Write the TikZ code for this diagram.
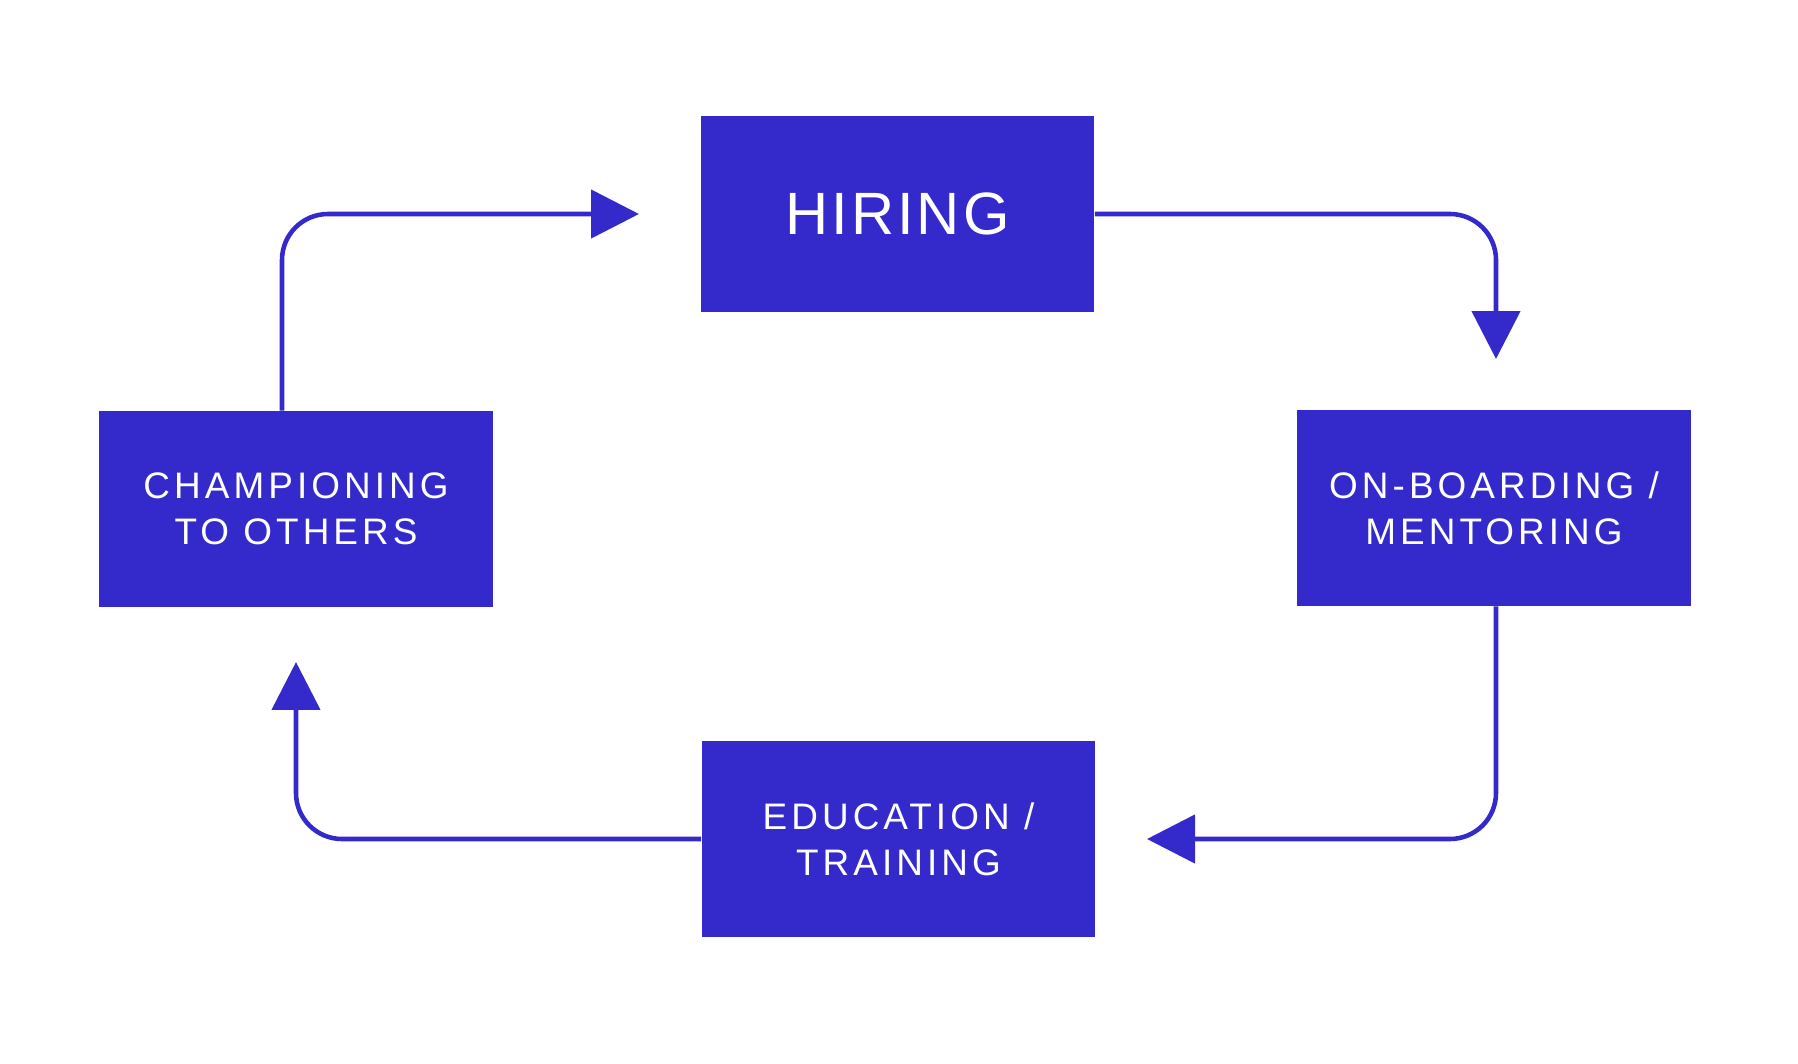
\documentclass[tikz,border=0pt]{standalone}
\usepackage{fontspec}
\usepackage{tikz}
\usetikzlibrary{positioning, arrows.meta}
\newfontfamily\stagefont{Liberation Sans}[LetterSpace=11]
\newfontfamily\hirefont{Liberation Sans}[LetterSpace=5]
\definecolor{CycleBlue}{RGB}{52,42,204}
\tikzset{
  stage/.style={draw=none, fill=CycleBlue, text=white, align=center,
    minimum width=7.88cm, minimum height=3.92cm, inner sep=0pt,
    font=\stagefont\fontsize{21}{26}\selectfont},
  cyclearr/.style={-{Triangle[length=0.96cm, width=0.96cm]}, line width=2.6pt,
    CycleBlue, rounded corners=0.92cm},
}

\begin{document}
\begin{tikzpicture}[x=0.02cm, y=-0.02cm]
  \useasboundingbox (0,0) rectangle (1798,1064);
  % the four stages of the cycle
  \node[stage, font=\hirefont\fontsize{34}{40}\selectfont] (hire) at (897.5,214) {HIRING};
  \node[stage] (onboard) at (1494,508) {ON-BOARDING /\\MENTORING};
  \node[stage] (edu) at (898.5,839) {EDUCATION /\\TRAINING};
  \node[stage] (champ) at (296,509) {CHAMPIONING\\TO OTHERS};
  % free ends of the arrows
  \coordinate (t1) at (639,214);
  \coordinate (t2) at (1496,359);
  \coordinate (t3) at (1147,839);
  \coordinate (t4) at (296,662);
  \draw[cyclearr] ([xshift=-0.28cm]champ.north) |- (t1);
  \draw[cyclearr] (hire.east) -| (t2);
  \draw[cyclearr] ([xshift=0.04cm]onboard.south) |- (t3);
  \draw[cyclearr] (edu.west) -| (t4);
\end{tikzpicture}
\end{document}
